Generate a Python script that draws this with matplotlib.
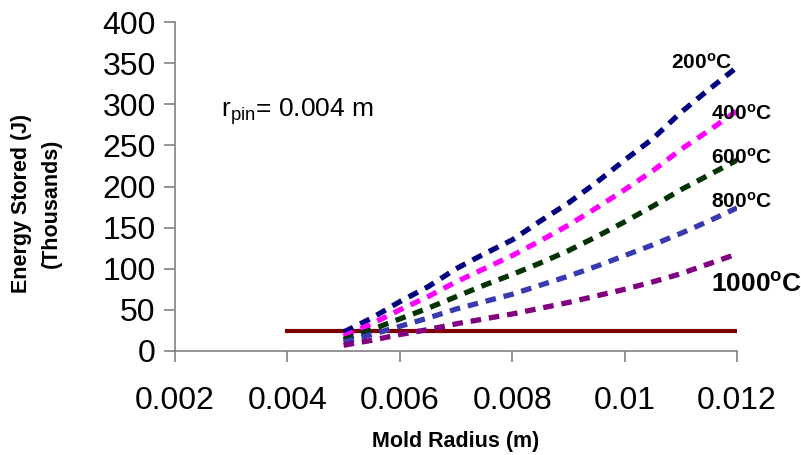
import numpy as np
import matplotlib
matplotlib.use("Agg")
import matplotlib.pyplot as plt

plt.rcParams['font.family'] = ['Liberation Sans', 'DejaVu Sans']
plt.rcParams['mathtext.fontset'] = 'custom'
plt.rcParams['mathtext.rm'] = 'Liberation Sans'
plt.rcParams['mathtext.bf'] = 'Liberation Sans:bold'

# data (energy in thousands of J)
radius = [0.005, 0.0055, 0.006, 0.0065, 0.007, 0.0075, 0.008, 0.0085,
          0.009, 0.0095, 0.01, 0.0105, 0.011, 0.0115, 0.012]
e200 = [23, 40, 60, 78, 100, 118, 135, 158, 180, 205, 232, 258, 290, 318, 345]
e400 = [18, 33, 50, 66, 84, 100, 116, 134, 153, 174, 196, 219, 245, 268, 292]
e600 = [14, 26, 39, 52, 66, 80, 93, 107, 122, 139, 157, 176, 196, 214, 232]
e800 = [11, 20, 30, 40, 51, 60, 69, 80, 91, 103, 116, 129, 143, 158, 174]
e1000 = [7, 13, 20, 26, 33, 39, 45, 52, 59, 67, 75, 84, 94, 106, 118]
ref_x = [0.004, 0.012]
ref_y = [24, 24]

series = [
    (e200, '#000080', r'$\mathbf{200^{o}C}$', 0.01082, 351, 15),
    (e400, '#FF00FF', r'$\mathbf{400^{o}C}$', 0.01154, 288, 15),
    (e600, '#003300', r'$\mathbf{600^{o}C}$', 0.01154, 235, 15),
    (e800, '#3A3AB0', r'$\mathbf{800^{o}C}$', 0.01154, 181, 15),
    (e1000, '#800080', r'$\mathbf{1000^{o}C}$', 0.01154, 80, 19),
]

fig = plt.figure(figsize=(8.01, 4.55), dpi=100)
ax = fig.add_axes([175 / 801, 1 - 351 / 455, 562 / 801, 329 / 455])

for vals, col, lab, tx, ty, fs in series:
    ax.plot(radius, vals, color=col, lw=3.8, linestyle=(0, (2.0, 1.5)),
            dash_capstyle='butt', zorder=3)
    ax.text(tx, ty, lab, fontsize=fs, va='center', ha='left', zorder=4)

ax.plot(ref_x, ref_y, color='#800000', lw=3, zorder=2)

ax.text(0.00282, 291, r'r$_{\mathregular{pin}}$= 0.004 m', fontsize=19,
        va='center', ha='left')

ax.set_xlim(0.002, 0.012)
ax.set_ylim(0, 400)
ax.set_xticks([0.002, 0.004, 0.006, 0.008, 0.01, 0.012])
ax.set_xticklabels(['0.002', '0.004', '0.006', '0.008', '0.01', '0.012'])
ax.set_yticks(range(0, 401, 50))

for s in ['top', 'right']:
    ax.spines[s].set_visible(False)
for s in ['left', 'bottom']:
    ax.spines[s].set_color('#808080')
    ax.spines[s].set_linewidth(1.2)
ax.tick_params(axis='both', direction='out', length=8, width=1.2,
               color='#808080', labelsize=23)
ax.tick_params(axis='x', pad=17)
ax.tick_params(axis='y', pad=6)

ax.set_xlabel('Mold Radius (m)', fontsize=15.5, fontweight='bold', labelpad=11)
ax.set_ylabel('Energy Stored (J)\n(Thousands)', fontsize=15.5,
              fontweight='bold', linespacing=1.55)
ax.yaxis.set_label_coords(-0.201, 0.45)

fig.savefig('out.png', dpi=100)
